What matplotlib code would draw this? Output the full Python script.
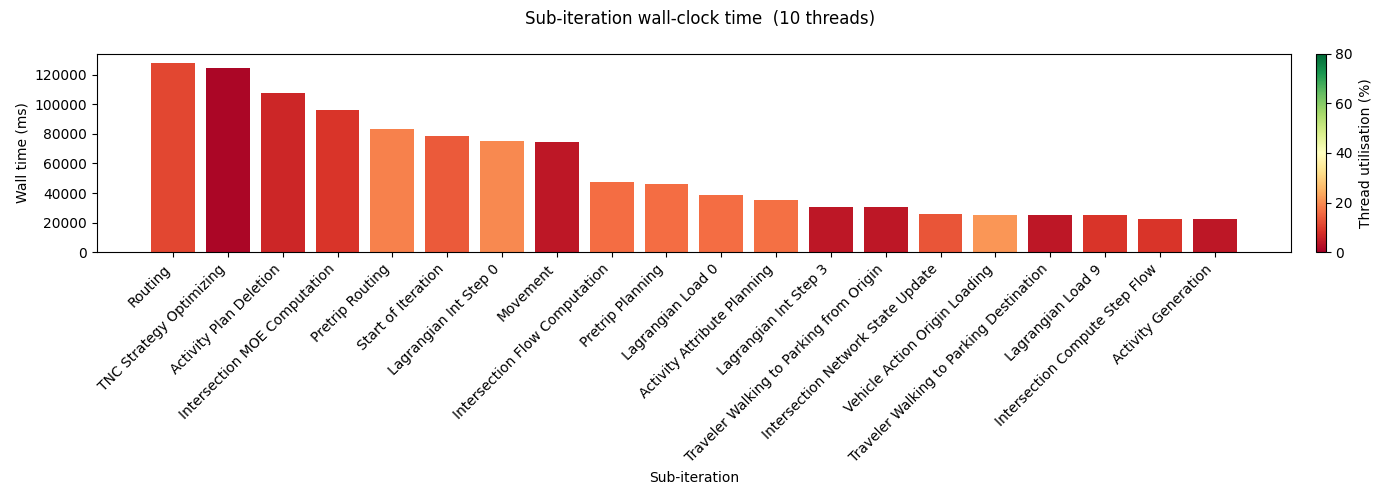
import numpy as np
import matplotlib
matplotlib.use("Agg")
import matplotlib.pyplot as plt
from matplotlib import cm, colors

# sub-iterations, wall time (ms) and thread utilisation (%)
names = ["Routing", "TNC Strategy Optimizing", "Activity Plan Deletion",
         "Intersection MOE Computation", "Pretrip Routing", "Start of Iteration",
         "Lagrangian Int Step 0", "Movement", "Intersection Flow Computation",
         "Pretrip Planning", "Lagrangian Load 0", "Activity Attribute Planning",
         "Lagrangian Int Step 3", "Traveler Walking to Parking from Origin",
         "Intersection Network State Update", "Vehicle Action Origin Loading",
         "Traveler Walking to Parking Destination", "Lagrangian Load 9",
         "Intersection Compute Step Flow", "Activity Generation"]
wall_ms = [127900, 124600, 107700, 96200, 83300, 78600, 75200, 74500,
           47400, 46100, 38600, 35200, 30500, 30500, 25800, 25100,
           25100, 25000, 22400, 22300]
util = [11, 1, 6.5, 8.5, 18.5, 13.5, 19.5, 4, 16, 16, 16, 16.5,
        4, 4, 13, 21, 4, 8.5, 8.5, 4]

cmap = plt.get_cmap("RdYlGn")
norm = colors.Normalize(vmin=0, vmax=80)

fig, ax = plt.subplots(figsize=(14, 5), dpi=100)
x = np.arange(len(names))
ax.bar(x, wall_ms, color=cmap(norm(util)))
ax.set_xticks(x)
ax.set_xticklabels(names, rotation=45, ha="right")
ax.set_xlabel("Sub-iteration")
ax.set_ylabel("Wall time (ms)")

sm = cm.ScalarMappable(cmap=cmap, norm=norm)
cb = fig.colorbar(sm, ax=ax, pad=0.02, fraction=0.02, aspect=20)
cb.set_label("Thread utilisation (%)")

fig.suptitle("Sub-iteration wall-clock time  (10 threads)")
fig.tight_layout()
fig.savefig("out.png")
